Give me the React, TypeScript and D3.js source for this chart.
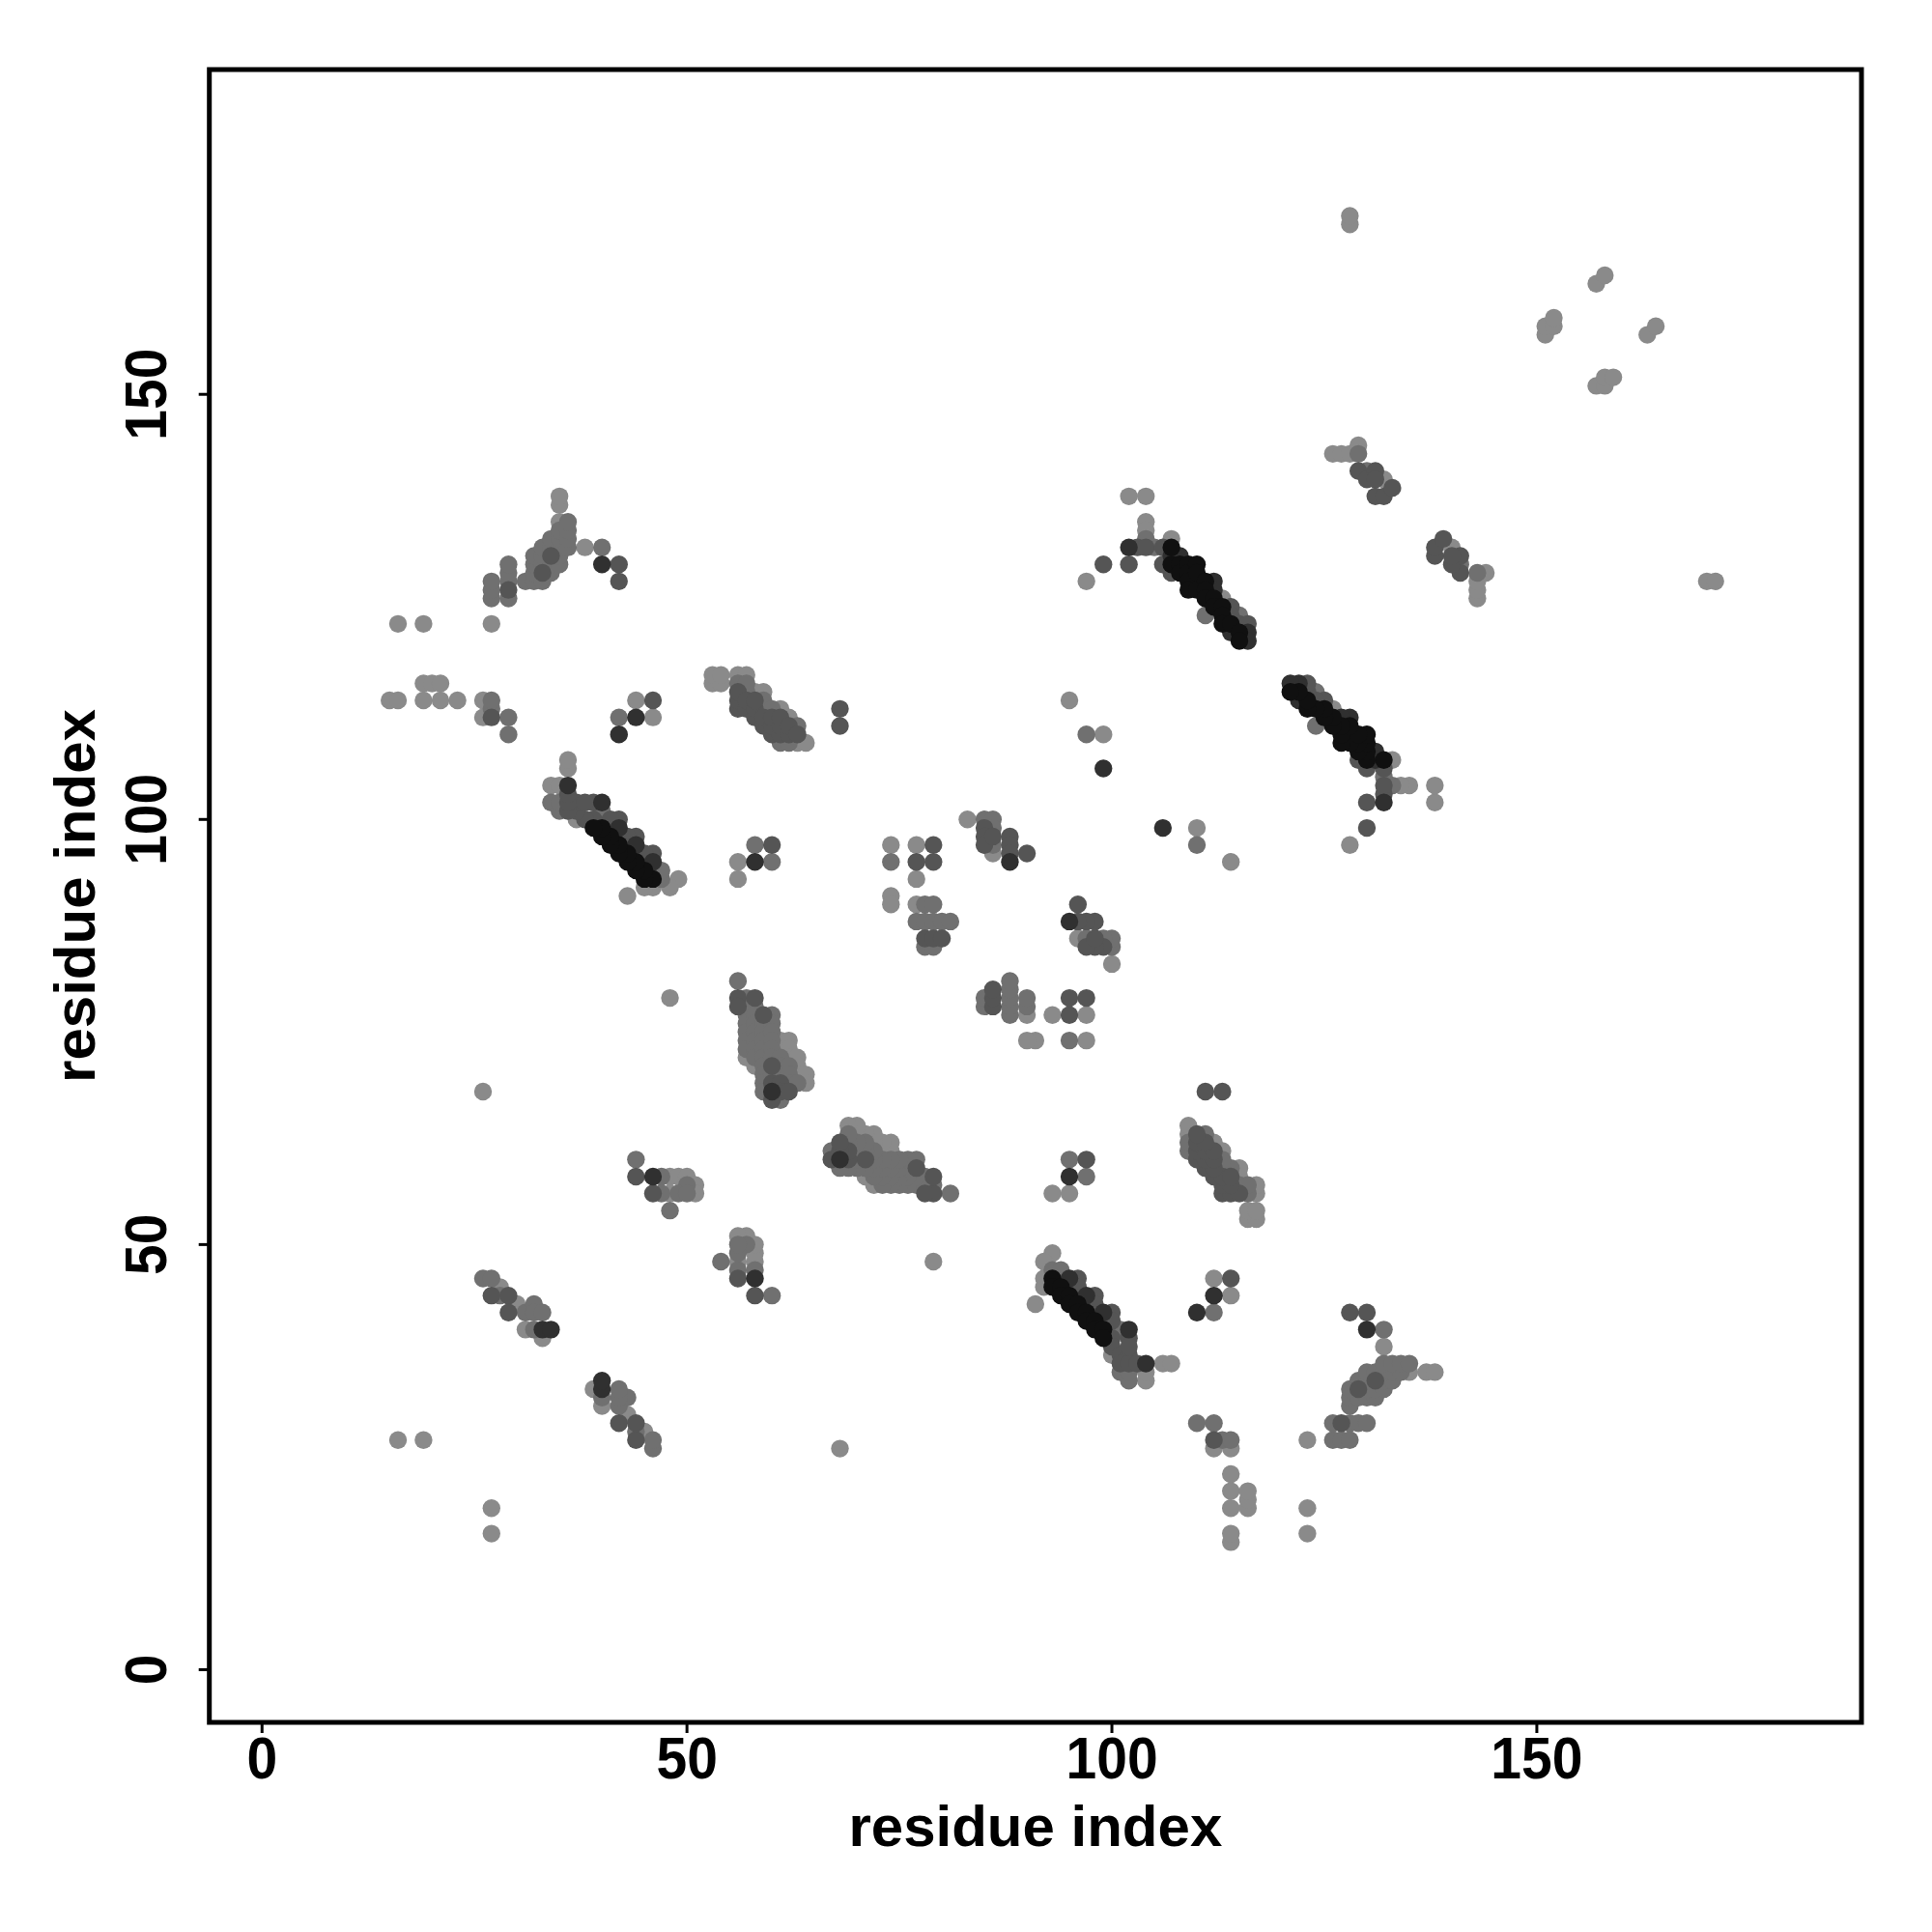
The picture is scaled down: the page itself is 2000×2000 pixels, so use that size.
import React from 'react';
import * as d3 from 'd3';

// Contact map: each contact [i, j, shade] is drawn at (i, j) and (j, i).
const xDomain: [number, number] = [-6.2, 188.2];
const yDomain: [number, number] = [-6.2, 188.2];
const xTicks = [0, 50, 100, 150];
const yTicks = [0, 50, 100, 150];
const xLabel = 'residue index';
const yLabel = 'residue index';
// shade levels: 0 light … 4 black
const shadeColors = ['#8a8a8a', '#707070', '#555555', '#303030', '#101010'];

const clusterA: number[][] = [
  [16,123,0],[19,123,0],[27,123,0],
  [27,126,1],[27,127,1],[27,128,1],
  [29,126,1],[29,127,2],[29,128,1],[29,129,1],[29,130,1],
  [31,128,1],
  [32,128,1],[32,129,1],[32,130,1],[32,131,1],
  [33,128,1],[33,129,2],[33,130,1],[33,131,1],[33,132,1],
  [34,129,1],[34,130,1],[34,131,2],[34,132,1],[34,133,1],
  [35,130,1],[35,131,1],[35,132,1],[35,133,1],[35,134,1],[35,135,0],[35,137,0],[35,138,0],
  [36,132,1],[36,133,1],[36,134,1],[36,135,1],
  [38,132,0],[40,130,3],[40,132,1],[42,128,2],[42,130,2],
];

const clusterB: number[][] = [
  [15,114,0],[16,114,0],[19,114,0],[21,114,0],[23,114,0],[19,116,0],[20,116,0],[21,116,0],
  [26,112,0],[26,114,0],[27,112,2],[27,113,1],[27,114,1],[29,110,1],[29,112,1],
  [44,114,0],[46,114,2],[42,112,1],[44,112,3],[46,112,0],[42,110,3],
];

const clusterB3: number[][] = [
  [53,116,0],[53,117,0],[54,116,0],[54,117,0],
  [56,113,2],[56,114,2],[56,115,2],[56,116,1],[56,117,0],
  [57,113,2],[57,114,2],[57,115,1],[57,116,1],[57,117,0],
  [58,112,2],[58,113,2],[58,114,2],[58,115,0],
  [59,111,2],[59,112,2],[59,113,1],[59,114,1],[59,115,0],
  [60,110,2],[60,111,2],[60,112,2],[60,113,1],
  [61,109,1],[61,110,2],[61,111,2],[61,112,2],[61,113,0],
  [62,109,1],[62,110,2],[62,111,2],[62,112,0],
  [63,109,0],[63,110,2],[63,111,1],
  [64,109,0],
];

const clusterC: number[][] = [
  [49,93,0],[48,92,0],[47,93,1],[47,94,1],[46,92,0],[45,92,0],[43,91,0],
  [46,95,3],[46,96,2],[45,96,2],[44,97,3],[44,98,2],[43,98,2],[42,99,3],[42,100,2],[41,100,2],[40,101,1],[40,102,3],[39,102,2],
  [46,93,4],[45,93,4],[45,94,4],[44,94,4],[44,95,4],[43,95,4],[43,96,4],[42,96,4],[42,97,4],[41,97,4],[41,98,4],[40,98,4],[40,99,4],[39,99,4],[39,100,2],[38,100,2],
  [37,100,0],[37,101,2],[37,102,2],[36,101,2],[36,102,2],[36,103,2],[36,104,3],[36,106,0],[36,107,0],
  [34,102,1],[35,101,1],[35,102,1],[34,104,0],[35,104,0],[38,102,2],
];

const clusterD: number[][] = [
  [56,93,0],[56,95,0],[58,95,3],[60,95,1],[58,97,1],[60,97,2],
];

const clusterE: number[][] = [
  [56,81,1],[56,79,2],[56,78,2],
  [57,79,1],[57,78,1],[57,77,1],[57,76,1],[57,75,1],[57,74,1],[57,73,1],[57,72,0],
  [58,79,2],[58,78,1],[58,77,1],[58,76,1],[58,75,1],[58,74,1],[58,73,1],[58,72,1],[58,71,0],
  [59,77,2],[59,76,1],[59,75,1],[59,74,1],[59,73,1],[59,72,1],[59,71,1],[59,70,1],[59,69,1],[59,68,1],
  [60,77,1],[60,76,1],[60,75,1],[60,74,1],[60,73,1],[60,72,1],[60,71,2],[60,70,1],[60,69,2],[60,68,3],[60,67,2],
  [61,74,0],[61,73,0],[61,72,1],[61,71,1],[61,70,1],[61,69,2],[61,68,2],[61,67,1],
  [62,74,0],[62,73,0],[62,72,0],[62,71,1],[62,70,1],[62,69,1],[62,68,2],
  [63,72,0],[63,71,0],[63,70,0],[63,69,1],
  [64,70,0],[64,69,0],
];

const clusterF: number[][] = [
  [48,79,0],[26,68,0],[16,27,0],[19,27,0],
  [44,60,1],[44,58,2],[46,58,3],[47,58,1],[48,58,0],[49,58,0],[50,58,0],[50,57,1],[51,57,0],
  [46,56,2],[47,56,1],[48,56,0],[49,56,1],[50,56,1],[51,56,0],[48,54,1],
  [26,46,1],[27,46,1],[28,45,0],[27,44,2],[28,44,1],[29,44,2],[30,43,0],[29,42,2],[31,42,1],
  [32,43,1],[32,42,1],[33,42,1],[31,40,0],[32,40,1],[33,40,3],[34,40,3],[33,39,0],
];

const clusterG: number[][] = [
  [74,97,0],[74,95,1],[77,97,0],[79,97,2],[77,95,2],[79,95,2],[77,93,0],[74,91,0],[74,90,0],
  [77,90,0],[78,90,1],[79,90,1],[77,88,1],[78,88,1],[79,88,1],[80,88,1],[81,88,1],
  [78,86,2],[79,86,2],[80,86,2],[78,85,1],[79,85,1],
  [83,100,0],[85,100,1],[85,99,2],[85,98,2],[85,97,2],[86,100,1],[86,99,1],[86,98,2],[86,97,1],[86,96,0],
  [88,98,2],[88,97,2],[88,96,2],[88,95,3],[90,96,2],
  [68,111,2],[68,113,2],[95,114,0],[97,110,1],[99,110,0],[99,106,3],
];

const clusterH: number[][] = [
  [102,138,0],[104,138,0],[104,135,0],[104,134,0],[104,133,1],[102,132,3],[103,132,2],[104,132,2],[105,132,1],
  [106,132,2],[107,133,0],[107,132,4],[107,131,3],[107,130,4],[107,129,2],[106,130,2],[102,130,2],[99,130,2],[97,128,0],
  [108,131,3],[108,130,4],[108,129,4],
  [109,130,4],[109,129,4],[109,128,4],[109,127,4],
  [110,130,4],[110,129,4],[110,128,3],[110,127,4],
  [111,128,4],[111,127,4],[111,126,4],[111,124,1],
  [112,128,3],[112,127,3],[112,126,4],[112,125,4],
  [113,126,0],[113,125,4],[113,124,4],[113,123,4],
  [114,125,2],[114,124,2],[114,123,4],[114,122,3],
  [115,124,1],[115,123,2],[115,122,4],[115,121,4],
  [116,123,2],[116,122,3],[116,121,3],
];

const clusterI: number[][] = [
  [126,143,0],[127,143,0],[128,143,0],[129,143,1],[129,144,0],[129,141,2],[130,140,2],[130,141,1],
  [131,141,2],[131,140,2],[132,140,0],[131,138,2],[132,138,2],[133,139,2],
  [128,170,0],[128,171,0],[151,157,0],[151,158,0],[152,158,0],[152,159,0],[157,163,0],[158,164,0],
];

const contacts: number[][] = [
  ...clusterA, ...clusterB, ...clusterB3, ...clusterC, ...clusterD,
  ...clusterE, ...clusterF, ...clusterG, ...clusterH, ...clusterI,
];

const FONT = '"Liberation Sans", Arial, Helvetica, sans-serif';

export default function App() {
  const x = d3.scaleLinear().domain(xDomain).range([216.7, 1927]);
  const y = d3.scaleLinear().domain(yDomain).range([1783, 72]);

  const pts: { px: number; py: number; s: number }[] = [];
  contacts.forEach(([a, b, s]) => {
    pts.push({ px: a, py: b, s });
    pts.push({ px: b, py: a, s });
  });
  pts.sort((p, q) => p.s - q.s);

  const [x0, x1] = x.range();
  const [y0, y1] = y.range();

  return (
    <div style={{ position: 'absolute', left: 0, top: 0 }}>
      <svg width={2000} height={2000} style={{ display: 'block', background: '#fff' }}>
        <rect x={0} y={0} width={2000} height={2000} fill="#fff" />
        {pts.map((p, i) => (
          <circle key={i} cx={x(p.px)} cy={y(p.py)} r={9.2} fill={shadeColors[p.s]} />
        ))}
        <rect x={x0} y={y1} width={x1 - x0} height={y0 - y1} fill="none" stroke="#000" strokeWidth={5} />
        {xTicks.map((t) => (
          <g key={'xt' + t}>
            <line x1={x(t)} x2={x(t)} y1={y0} y2={y0 + 11} stroke="#000" strokeWidth={3} />
            <text transform={`translate(${x(t)}, 1841) scale(0.92, 1)`} textAnchor="middle" fontFamily={FONT} fontWeight="bold" fontSize={62}>{t}</text>
          </g>
        ))}
        {yTicks.map((t) => (
          <g key={'yt' + t}>
            <line x1={x0 - 11} x2={x0} y1={y(t)} y2={y(t)} stroke="#000" strokeWidth={3} />
            <text transform={`translate(172, ${y(t)}) rotate(-90) scale(0.92, 1)`} textAnchor="middle" fontFamily={FONT} fontWeight="bold" fontSize={62}>{t}</text>
          </g>
        ))}
        <text x={(x0 + x1) / 2} y={1910.7} textAnchor="middle" fontFamily={FONT} fontWeight="bold" fontSize={60}>{xLabel}</text>
        <text transform={`translate(98.3, ${(y0 + y1) / 2}) rotate(-90)`} textAnchor="middle" fontFamily={FONT} fontWeight="bold" fontSize={60}>{yLabel}</text>
      </svg>
    </div>
  );
}
